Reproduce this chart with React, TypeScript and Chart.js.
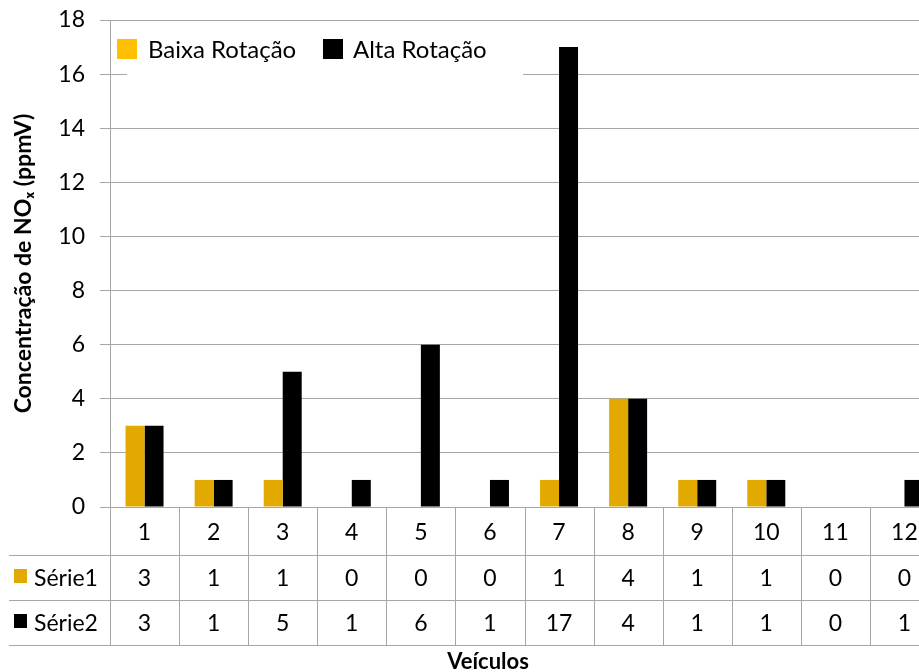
import React, { useEffect, useRef } from "react";
import { Chart, registerables } from "chart.js";

Chart.register(...registerables);

const categories = ["1", "2", "3", "4", "5", "6", "7", "8", "9", "10", "11", "12"];
const baixaRotacao = [3, 1, 1, 0, 0, 0, 1, 4, 1, 1, 0, 0];
const altaRotacao = [3, 1, 5, 1, 6, 1, 17, 4, 1, 1, 0, 1];
const legendLabels = ["Baixa Rotação", "Alta Rotação"];
const tableLabels = ["Série1", "Série2"];
const yTitle = "Concentração de NOₓ (ppmV)";
const xTitle = "Veículos";
const yMax = 18;
const yStep = 2;

const GOLD_BAR = "#E2AA00";
const GOLD_LEGEND = "#FFC000";
const BLACK = "#000000";
const GRID = "#A6A6A6";
const FONT = "Lato, 'Open Sans', sans-serif";

const tablePlugin = {
  id: "excelTable",
  afterDraw(chart: any) {
    const ctx = chart.ctx;
    const area = chart.chartArea;
    const xs = chart.scales.x;
    const n = categories.length;
    const catW = (area.right - area.left) / n;
    const top = area.bottom;
    const r1 = top + 48;
    const r2 = r1 + 45;
    const r3 = r2 + 45;
    ctx.save();
    // legend box (white, inside plot)
    ctx.fillStyle = "#FFFFFF";
    ctx.fillRect(127, 27, 396, 56);
    ctx.fillStyle = GOLD_LEGEND;
    ctx.fillRect(117, 39, 20, 20);
    ctx.fillStyle = BLACK;
    ctx.fillRect(323, 39, 20, 20);
    ctx.font = `24px ${FONT}`;
    ctx.textAlign = "left";
    ctx.textBaseline = "alphabetic";
    ctx.fillText(legendLabels[0], 148, 58);
    ctx.fillText(legendLabels[1], 353, 58);

    // table lines
    ctx.strokeStyle = GRID;
    ctx.lineWidth = 1;
    ctx.beginPath();
    for (let i = 0; i <= n; i++) {
      const xx = Math.round(area.left + i * catW) + 0.5;
      ctx.moveTo(xx, top);
      ctx.lineTo(xx, r3);
    }
    [r1, r2, r3].forEach((yy) => {
      ctx.moveTo(9, Math.round(yy) + 0.5);
      ctx.lineTo(area.right, Math.round(yy) + 0.5);
    });
    ctx.stroke();

    // table text
    ctx.fillStyle = BLACK;
    ctx.textAlign = "center";
    ctx.font = `23px ${FONT}`;
    for (let i = 0; i < n; i++) {
      const cx = xs.getPixelForValue(i);
      ctx.fillText(categories[i], cx, top + 33);
      ctx.fillText(String(baixaRotacao[i]), cx, r1 + 31);
      ctx.fillText(String(altaRotacao[i]), cx, r2 + 31);
    }
    // row labels
    ctx.fillStyle = GOLD_BAR;
    ctx.fillRect(14, r1 + 14, 13, 14);
    ctx.fillStyle = BLACK;
    ctx.fillRect(14, r2 + 14, 13, 14);
    ctx.textAlign = "left";
    ctx.fillText(tableLabels[0], 34, r1 + 31);
    ctx.fillText(tableLabels[1], 34, r2 + 31);

    // x title
    ctx.font = `bold 22px ${FONT}`;
    ctx.textAlign = "center";
    ctx.fillText(xTitle, 488, 669);
    ctx.restore();
  },
};

export default function App() {
  const ref = useRef<HTMLCanvasElement | null>(null);
  useEffect(() => {
    if (!ref.current) return;
    const chart = new Chart(ref.current, {
      type: "bar",
      data: {
        labels: categories,
        datasets: [
          {
            label: legendLabels[0],
            data: baixaRotacao,
            backgroundColor: GOLD_BAR,
            borderWidth: 0,
          },
          {
            label: legendLabels[1],
            data: altaRotacao,
            backgroundColor: BLACK,
            borderWidth: 0,
          },
        ],
      },
      options: {
        animation: false,
        responsive: false,
        devicePixelRatio: 1,
        events: [],
        layout: { padding: { top: 20, left: 0, right: 0, bottom: 0 } },
        datasets: {
          bar: { categoryPercentage: 0.55, barPercentage: 1 },
        },
        plugins: {
          legend: { display: false },
          tooltip: { enabled: false },
          title: { display: false },
        },
        scales: {
          x: {
            grid: { display: false },
            border: { display: false },
            ticks: { display: false },
            afterFit: (scale: any) => {
              scale.height = 165;
              scale.paddingLeft = 0;
              scale.paddingRight = 0;
            },
          },
          y: {
            min: 0,
            max: yMax,
            ticks: {
              stepSize: yStep,
              color: "#000",
              padding: 15,
              font: { family: FONT, size: 23 },
            },
            grid: { color: GRID, tickLength: 10, lineWidth: 1 },
            border: { display: true, color: GRID },
            title: {
              display: true,
              text: yTitle,
              color: "#000",
              font: { family: FONT, size: 23, weight: "bold" },
              padding: { top: 10, bottom: 0 },
            },
            afterFit: (scale: any) => {
              scale.width = 110;
              scale.paddingTop = 0;
              scale.paddingBottom = 0;
            },
          },
        },
      },
      plugins: [tablePlugin],
    });
    return () => chart.destroy();
  }, []);
  return (
    <div
      style={{
        position: "fixed",
        left: 0,
        top: 0,
        width: 919,
        height: 672,
        overflow: "hidden",
        background: "#fff",
      }}
    >
      <canvas ref={ref} width={939} height={672} style={{ display: "block" }} />
    </div>
  );
}
